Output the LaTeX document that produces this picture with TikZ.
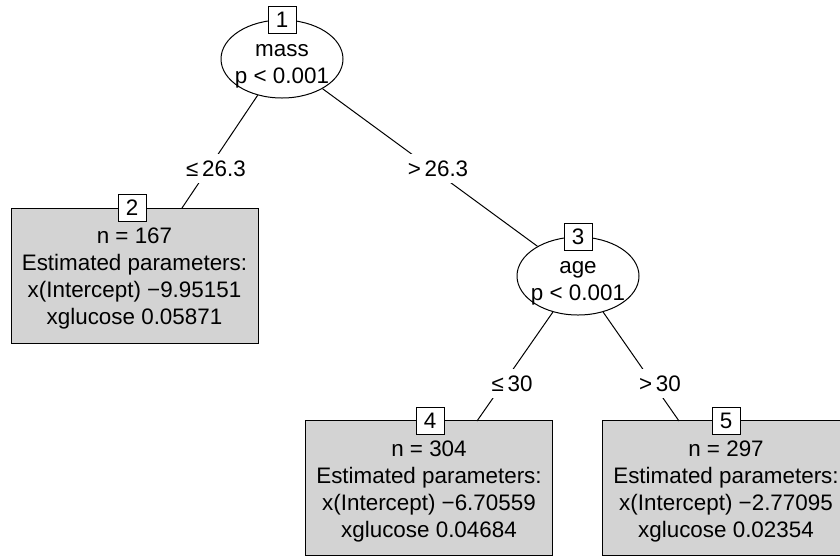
\documentclass[tikz,border=0pt]{standalone}
\usepackage{fontspec}
\setmainfont{Liberation Sans}
\usepackage{tikz}
\usetikzlibrary{shapes.geometric}

\definecolor{termgray}{HTML}{D3D3D3}
\newcommand{\firstline}[1]{\rule{0pt}{#1}}

\begin{document}
\begin{tikzpicture}[x=0.5pt, y=-0.5pt,
    font=\fontsize{11.2}{13.5}\selectfont,
    line width=0.5pt,
    split/.style={ellipse,draw,fill=white,minimum width=61pt,minimum height=39pt,
                  inner xsep=-8pt,inner ysep=-3pt,align=center},
    leaf/.style={rectangle,draw,fill=termgray,minimum width=123.5pt,minimum height=67.5pt,
                 inner sep=0pt,align=center},
    idbox/.style={rectangle,draw,fill=white,minimum width=14pt,minimum height=13.5pt,inner sep=0pt},
    elab/.style={fill=white,inner sep=0pt,minimum height=14.5pt,text height=8pt,text depth=0pt},
                        ]
    \useasboundingbox (0,0) rectangle (840,558);
    \clip (0,0) rectangle (840,558);

    % inner nodes
    \node[split] (n1) at (282,59)  {\firstline{13pt}mass\\p < 0.001};
    \node[split] (n3) at (578,276) {\firstline{13pt}age\\p < 0.001};

    % terminal nodes
    \node[leaf] (n2) at (134.5,275.5) {\firstline{11pt}n = 167\\Estimated parameters:\\x(Intercept) −9.95151\\xglucose 0.05871};
    \node[leaf] (n4) at (429,488) {\firstline{11pt}n = 304\\Estimated parameters:\\x(Intercept) −6.70559\\xglucose 0.04684};
    \node[leaf] (n5) at (726,488) {\firstline{11pt}n = 297\\Estimated parameters:\\x(Intercept) −2.77095\\xglucose 0.02354};

    \node[idbox] (id1) at (282,20)    {1};
    \node[idbox] (id2) at (132,208)   {2};
    \node[idbox] (id3) at (578,236.5) {3};
    \node[idbox] (id4) at (430,421)   {4};
    \node[idbox] (id5) at (726,421)   {5};

    % where the edges meet the terminal boxes
    \coordinate (t2) at (182,208);
    \coordinate (t4) at (477,421);
    \coordinate (t5) at (679,421);

    \draw (n1) -- (t2);
    \draw (n1) -- (n3);
    \draw (n3) -- (t4);
    \draw (n3) -- (t5);

    \node[elab] (l2) at (216,168) {≤\,26.3};
    \node[elab] (l3) at (438,168) {>\,26.3};
    \node[elab] (l4) at (512,383) {≤\,30};
    \node[elab] (l5) at (660,383) {>\,30};

\end{tikzpicture}
\end{document}
